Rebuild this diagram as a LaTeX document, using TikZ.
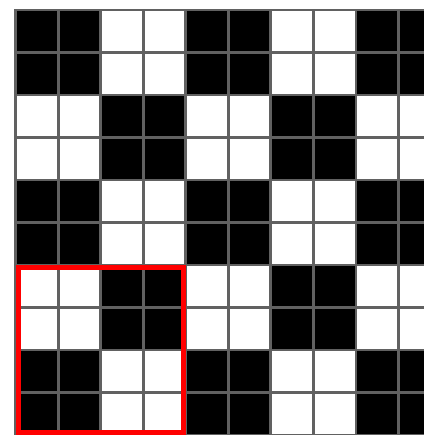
\documentclass[tikz,border=0pt]{standalone}
\usetikzlibrary{calc}
\begin{document}
\begin{tikzpicture}[x=1cm,y=1cm,cellline/.style={draw=black!62,line width=0.07cm}]
 \useasboundingbox (-0.376,0) rectangle (9.6,10.235);
 \clip (-0.376,0) rectangle (9.6,10.235);
 \fill[white] (-0.376,0) rectangle (9.6,10.235);
 % cells in 2x2 blocks, alternating black and white
 \foreach \i in {0,...,10}{
  \foreach \j in {0,...,9}{
   \pgfmathtruncatemacro{\c}{mod(int(\i/2)+int(\j/2),2)}
   \ifnum\c=0\def\cellfill{black}\else\def\cellfill{white}\fi
   \draw[cellline,fill=\cellfill] (\i,\j) rectangle ++(1,1);
  }
 }
 \coordinate (boxSW) at (0.06,0.06);\coordinate (boxNE) at (3.95,3.95);
 \draw[red,line width=0.12cm] (boxSW) rectangle (boxNE);
\end{tikzpicture}
\end{document}
